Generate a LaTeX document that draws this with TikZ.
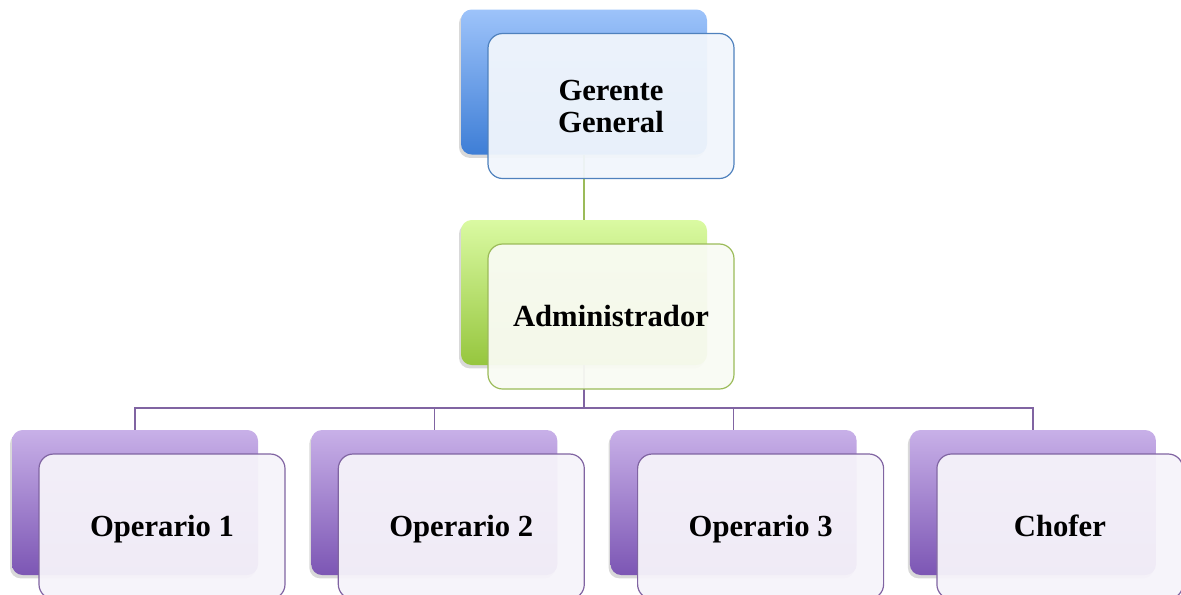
\documentclass[tikz,border=0pt]{standalone}
\usepackage{fontspec}
\setmainfont{Liberation Serif}
\usetikzlibrary{shadows}
% colores
\definecolor{azulA}{RGB}{157,195,250}
\definecolor{azulB}{RGB}{62,126,214}
\definecolor{azulL}{RGB}{79,129,189}
\definecolor{azulF}{RGB}{241,246,252}
\definecolor{verdeA}{RGB}{218,250,162}
\definecolor{verdeB}{RGB}{150,198,62}
\definecolor{verdeL}{RGB}{155,187,89}
\definecolor{verdeF}{RGB}{249,251,243}
\definecolor{moradoA}{RGB}{200,176,232}
\definecolor{moradoB}{RGB}{124,86,180}
\definecolor{moradoL}{RGB}{128,100,162}
\definecolor{moradoF}{RGB}{246,243,250}
\begin{document}
\begin{tikzpicture}[x=0.75pt, y=-0.75pt,
    fondo/.style={rectangle, rounded corners=8pt, inner sep=0pt,
      minimum width=184.5pt, minimum height=108.75pt,
      drop shadow={shadow xshift=-1.5pt, shadow yshift=-2.5pt, opacity=0.3}},
    cargo/.style={rectangle, rounded corners=11pt, inner sep=0pt,
      minimum width=184.5pt, minimum height=108.75pt, line width=0.9pt,
      fill opacity=0.95, text opacity=1, align=center,
      font=\fontsize{23}{24}\selectfont\bfseries,
      xshift=20.25pt, yshift=-18pt},
    linea/.style={text height=20pt, text depth=5pt}]
    \clip (0,0) rectangle (1181,594);
    % Gerente General
    \node[fondo, top color=azulA, bottom color=azulB] (gb) at (584,82) {};
    % Administrador
    \node[fondo, top color=verdeA, bottom color=verdeB] (ab) at (584,292.5) {};
    % operarios y chofer
    \foreach \i/\n in {0/o1, 1/o2, 2/o3, 3/ch}
      \node[fondo, top color=moradoA, bottom color=moradoB] (\n b) at (135+299.3*\i,502.5) {};
    % lineas
    \coordinate (bus) at (584,408);
    \draw[verdeL, line width=0.9pt] (gb.south) -- (ab.north);
    \draw[moradoL, line width=0.9pt] (ab.south) -- (bus);
    \foreach \n in {o1, o2, o3, ch}
      \draw[moradoL, line width=0.9pt] (bus) -| (\n b.north);
    % cajas del frente
    \node[cargo, draw=azulL, fill=azulF] (g) at (gb.center) {Gerente\\General};
    \node[cargo, linea, draw=verdeL, fill=verdeF] (a) at (ab.center) {Administrador};
    \node[cargo, linea, draw=moradoL, fill=moradoF] (o1) at (o1b.center) {Operario 1};
    \node[cargo, linea, draw=moradoL, fill=moradoF] (o2) at (o2b.center) {Operario 2};
    \node[cargo, linea, draw=moradoL, fill=moradoF] (o3) at (o3b.center) {Operario 3};
    \node[cargo, linea, draw=moradoL, fill=moradoF] (ch) at (chb.center) {Chofer};
\end{tikzpicture}
\end{document}
